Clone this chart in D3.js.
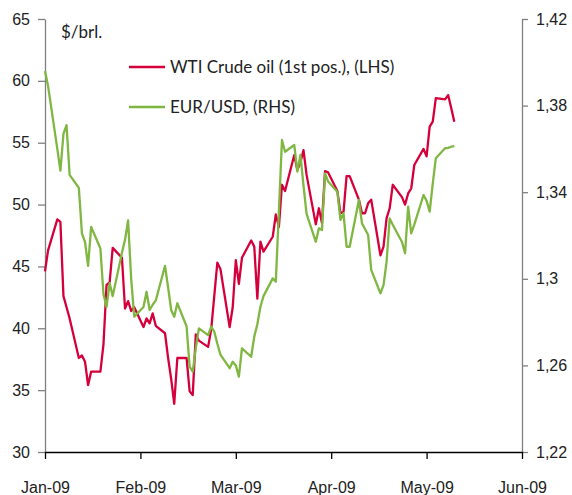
<!DOCTYPE html>
<html lang="en">
<head>
<meta charset="UTF-8">
<title>WTI Crude oil vs EUR/USD</title>
<script src="https://d3js.org/d3.v7.min.js"></script>
<style>
    body { margin: 0; background: #fff; }
    svg { display: block; font-family: Lato, "Open Sans", sans-serif; }
    .axis text { font-size: 16px; fill: #222; }
    .axis-grey path, .axis-grey line { stroke: #808080; stroke-width: 1.3px; }
    .axis-x path, .axis-x line { stroke: #000; stroke-width: 1.3px; }
    .series { fill: none; stroke-width: 2.3px; stroke-linejoin: round; }
    .label { font-size: 17px; fill: #222; }
</style>
</head>
<body>
<svg id="chart"></svg>
<script>
// trading days, Jan-May 2009
const dates = [
    "2009-01-01","2009-01-02","2009-01-05","2009-01-06","2009-01-07","2009-01-08","2009-01-09",
    "2009-01-12","2009-01-13","2009-01-14","2009-01-15","2009-01-16","2009-01-19","2009-01-20",
    "2009-01-21","2009-01-22","2009-01-23","2009-01-26","2009-01-27","2009-01-28","2009-01-29","2009-01-30",
    "2009-02-02","2009-02-03","2009-02-04","2009-02-05","2009-02-06","2009-02-09","2009-02-10",
    "2009-02-11","2009-02-12","2009-02-13","2009-02-16","2009-02-17","2009-02-18","2009-02-19",
    "2009-02-20","2009-02-23","2009-02-24","2009-02-25","2009-02-26","2009-02-27",
    "2009-03-02","2009-03-03","2009-03-04","2009-03-05","2009-03-06","2009-03-09","2009-03-10",
    "2009-03-11","2009-03-12","2009-03-13","2009-03-16","2009-03-17","2009-03-18","2009-03-19",
    "2009-03-20","2009-03-23","2009-03-24","2009-03-25","2009-03-26","2009-03-27","2009-03-30","2009-03-31",
    "2009-04-01","2009-04-02","2009-04-03","2009-04-06","2009-04-07","2009-04-08","2009-04-09",
    "2009-04-10","2009-04-13","2009-04-14","2009-04-15","2009-04-16","2009-04-17","2009-04-20",
    "2009-04-21","2009-04-22","2009-04-23","2009-04-24","2009-04-27","2009-04-28","2009-04-29","2009-04-30",
    "2009-05-01","2009-05-04","2009-05-05","2009-05-06","2009-05-07","2009-05-08","2009-05-11",
    "2009-05-12","2009-05-13","2009-05-14"
];

// $/brl.
const wti = [
    44.6, 46.3, 48.8, 48.6, 42.6, 41.7, 40.8,
    37.6, 37.8, 37.3, 35.4, 36.5, 36.5, 38.7,
    43.5, 43.7, 46.5, 45.7, 41.6, 42.2, 41.4, 41.7,
    40.1, 40.8, 40.4, 41.2, 40.2, 39.6, 37.6,
    35.9, 33.9, 37.6, 37.6, 34.9, 34.6, 39.5,
    39.0, 38.5, 39.9, 42.6, 45.3, 44.8,
    40.1, 41.7, 45.5, 43.6, 45.7, 47.1, 46.6,
    42.4, 47.0, 46.2, 47.4, 49.2, 48.2, 51.6,
    51.1, 54.0, 52.8, 53.4, 54.4, 52.4, 48.4, 49.7,
    48.5, 52.7, 52.6, 51.1, 49.3, 49.4, 52.3,
    52.3, 50.4, 49.3, 49.3, 50.1, 50.4, 45.9,
    46.6, 48.9, 49.7, 51.6, 50.6, 50.0, 50.9, 51.3,
    53.2, 54.5, 53.9, 56.3, 56.7, 58.6, 58.5,
    58.85, 57.8, 56.7
];

const eurusd = [
    1.396, 1.389, 1.360, 1.350, 1.367, 1.371, 1.348,
    1.342, 1.321, 1.317, 1.306, 1.324, 1.314, 1.293,
    1.287, 1.298, 1.292, 1.312, 1.318, 1.327, 1.300, 1.2825,
    1.287, 1.294, 1.2856, 1.288, 1.290, 1.306, 1.296,
    1.2856, 1.2825, 1.2887, 1.278, 1.2594, 1.2571, 1.268,
    1.2771, 1.274, 1.2779, 1.2756, 1.270, 1.265,
    1.2587, 1.2617, 1.260, 1.2548, 1.2679, 1.264, 1.2733,
    1.279, 1.2871, 1.292, 1.3002, 1.2987, 1.331, 1.3641,
    1.3587, 1.3618, 1.3495, 1.3572, 1.343, 1.330, 1.3171, 1.3233,
    1.3225, 1.3487, 1.3449, 1.3402, 1.3272, 1.3303, 1.3148,
    1.3148, 1.3364, 1.3256, 1.323, 1.3202, 1.3041, 1.2933,
    1.2971, 1.3079, 1.3279, 1.325, 1.317, 1.3118, 1.3333, 1.321,
    1.325, 1.3387, 1.336, 1.331, 1.344, 1.3557, 1.3603,
    1.3605, 1.361, 1.3613
];

const seriesNames = ["WTI Crude oil (1st pos.), (LHS)", "EUR/USD, (RHS)"];
const seriesColors = ["#d5003b", "#7fb742"];
const lhsTicks = [30, 35, 40, 45, 50, 55, 60, 65];
const rhsTicks = [1.22, 1.26, 1.30, 1.34, 1.38, 1.42];
// axis ticks every 31 days from Jan 1
const xTickDates = ["2009-01-01", "2009-02-01", "2009-03-04", "2009-04-04", "2009-05-05", "2009-06-05"];

const width = 572, height = 495;
const plotLeft = 45, plotRight = 522, plotTop = 19, plotBottom = 452;

const parse = d3.timeParse("%Y-%m-%d");
const dateObjs = dates.map(parse);
const tickObjs = xTickDates.map(parse);

const svg = d3.select("#chart")
    .attr("width", width)
    .attr("height", height);

const x = d3.scaleTime()
    .domain([tickObjs[0], tickObjs[tickObjs.length - 1]])
    .range([plotLeft, plotRight]);

const yL = d3.scaleLinear().domain([30, 65]).range([plotBottom, plotTop]);
const yR = d3.scaleLinear().domain([1.22, 1.42]).range([plotBottom, plotTop]);

const comma = d3.formatLocale({ decimal: ",", thousands: ".", grouping: [3], currency: ["", ""] });

// left axis
svg.append("g")
    .attr("class", "axis axis-grey")
    .attr("transform", `translate(${plotLeft},0)`)
    .call(d3.axisLeft(yL).tickValues(lhsTicks).tickSize(7).tickSizeOuter(0).tickPadding(8));

// right axis
svg.append("g")
    .attr("class", "axis axis-grey")
    .attr("transform", `translate(${plotRight},0)`)
    .call(d3.axisRight(yR).tickValues(rhsTicks).tickSize(6).tickSizeOuter(0).tickPadding(8)
        .tickFormat(comma.format(".3~g")));

// bottom axis
svg.append("g")
    .attr("class", "axis axis-x")
    .attr("transform", `translate(0,${plotBottom})`)
    .call(d3.axisBottom(x).tickValues(tickObjs).tickSize(7).tickSizeOuter(0).tickPadding(23)
        .tickFormat(d3.timeFormat("%b-%y")));

// unit label
svg.append("text")
    .attr("class", "label")
    .attr("x", 61)
    .attr("y", 38)
    .text("$/brl.");

const lineL = d3.line().x((d, i) => x(dateObjs[i])).y(d => yL(d));
const lineR = d3.line().x((d, i) => x(dateObjs[i])).y(d => yR(d));

svg.append("path")
    .attr("class", "series")
    .attr("stroke", seriesColors[0])
    .attr("d", lineL(wti));

svg.append("path")
    .attr("class", "series")
    .attr("stroke", seriesColors[1])
    .attr("d", lineR(eurusd));

// legend
const legend = svg.append("g").attr("transform", "translate(129,67)");
seriesNames.forEach((name, i) => {
    const g = legend.append("g").attr("transform", `translate(0,${i * 40})`);
    g.append("line")
        .attr("x1", 0).attr("x2", 36)
        .attr("stroke", seriesColors[i])
        .attr("stroke-width", 2.6);
    g.append("text")
        .attr("class", "label")
        .attr("x", 41)
        .attr("dy", "0.35em")
        .text(name);
});
</script>
</body>
</html>
